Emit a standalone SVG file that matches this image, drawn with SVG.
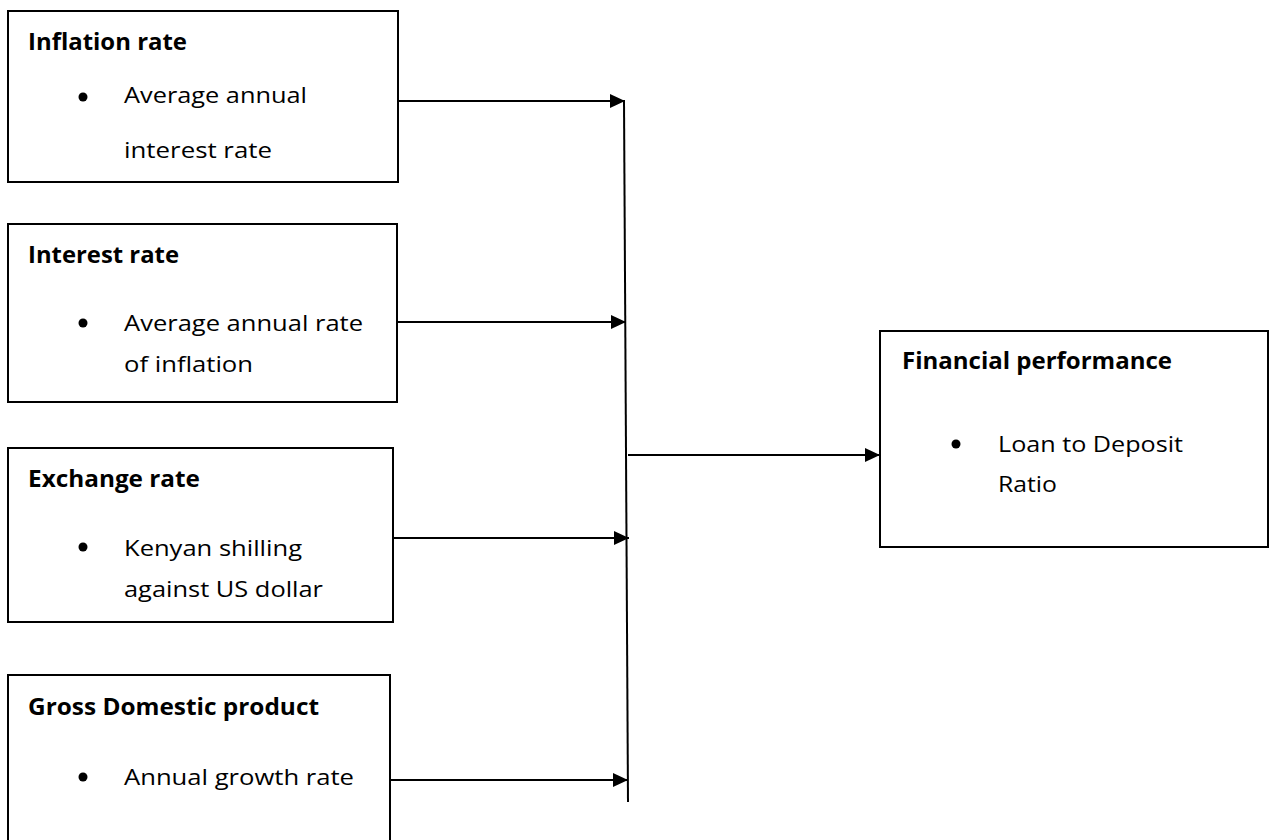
<svg xmlns="http://www.w3.org/2000/svg" width="1270" height="840" viewBox="0 0 1270 840">
<style>
.box{fill:#fff;stroke:#000;stroke-width:2}
.t{font-family:"Open Sans","Liberation Sans",sans-serif;font-size:21.5px;fill:#000}
.b{font-weight:bold;font-size:22.5px}
.dot{fill:#000}
.con{stroke:#000;stroke-width:2;fill:none}
</style>
<defs>
<marker id="ah" markerUnits="userSpaceOnUse" markerWidth="16" markerHeight="16" viewBox="0 0 16 16" refX="15" refY="8" orient="auto">
<path d="M0,1 L15,8 L0,15 Z" fill="#000"/>
</marker>
</defs>
<rect width="1270" height="840" fill="#fff"/>
<g id="inflation">
<rect class="box" x="8" y="11" width="390" height="171"/>
<text class="t b" x="28" y="50" textLength="159" lengthAdjust="spacingAndGlyphs">Inflation rate</text>
<circle class="dot" cx="83" cy="97" r="4.5"/>
<text class="t" x="124" y="103" textLength="183" lengthAdjust="spacingAndGlyphs">Average annual</text>
<text class="t" x="124" y="158" textLength="148" lengthAdjust="spacingAndGlyphs">interest rate</text>
</g>
<g id="interest">
<rect class="box" x="8" y="224" width="389" height="178"/>
<text class="t b" x="28" y="263" textLength="151" lengthAdjust="spacingAndGlyphs">Interest rate</text>
<circle class="dot" cx="83" cy="323" r="4.5"/>
<text class="t" x="124" y="331" textLength="239" lengthAdjust="spacingAndGlyphs">Average annual rate</text>
<text class="t" x="124" y="372" textLength="129" lengthAdjust="spacingAndGlyphs">of inflation</text>
</g>
<g id="exchange">
<rect class="box" x="8" y="448" width="385" height="174"/>
<text class="t b" x="28" y="487" textLength="172" lengthAdjust="spacingAndGlyphs">Exchange rate</text>
<circle class="dot" cx="83" cy="547" r="4.5"/>
<text class="t" x="124" y="556" textLength="178" lengthAdjust="spacingAndGlyphs">Kenyan shilling</text>
<text class="t" x="124" y="597" textLength="199" lengthAdjust="spacingAndGlyphs">against US dollar</text>
</g>
<g id="gdp">
<rect class="box" x="8" y="675" width="382" height="200"/>
<text class="t b" x="28" y="715" textLength="291" lengthAdjust="spacingAndGlyphs">Gross Domestic product</text>
<circle class="dot" cx="83" cy="777" r="4.5"/>
<text class="t" x="124" y="785" textLength="230" lengthAdjust="spacingAndGlyphs">Annual growth rate</text>
</g>
<g id="performance">
<rect class="box" x="880" y="331" width="388" height="216"/>
<text class="t b" x="902" y="369" textLength="270" lengthAdjust="spacingAndGlyphs">Financial performance</text>
<circle class="dot" cx="956" cy="444" r="4.5"/>
<text class="t" x="998" y="452" textLength="185" lengthAdjust="spacingAndGlyphs">Loan to Deposit</text>
<text class="t" x="998" y="492" textLength="59" lengthAdjust="spacingAndGlyphs">Ratio</text>
</g>
<g id="connectors">
<line class="con" x1="624" y1="101" x2="628" y2="802"/>
<line class="con" x1="398" y1="101" x2="625" y2="101" marker-end="url(#ah)"/>
<line class="con" x1="397" y1="322" x2="626" y2="322" marker-end="url(#ah)"/>
<line class="con" x1="393" y1="538" x2="629" y2="538" marker-end="url(#ah)"/>
<line class="con" x1="390" y1="780" x2="628" y2="780" marker-end="url(#ah)"/>
<line class="con" x1="628" y1="455" x2="880" y2="455" marker-end="url(#ah)"/>
</g>
</svg>
